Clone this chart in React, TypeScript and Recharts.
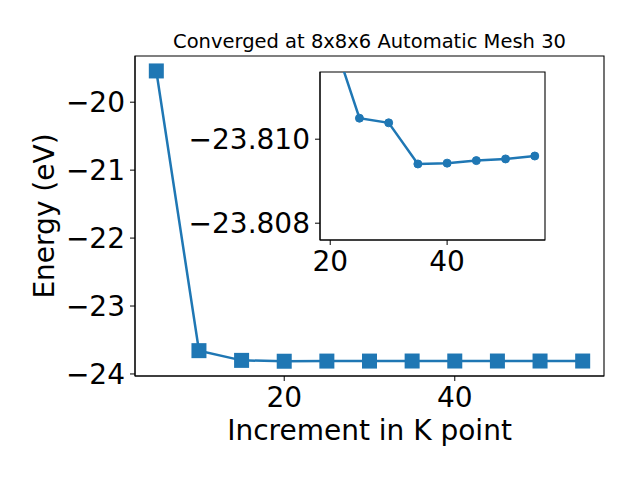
import { LineChart, Line, XAxis, YAxis, Label, ReferenceArea } from 'recharts';

const kPoints = [5, 10, 15, 20, 25, 30, 35, 40, 45, 50, 55];
const energies = [
  -19.54, -23.657, -23.8, -23.8126, -23.8105, -23.81039, -23.80941, -23.80943, -23.80949, -23.80953, -23.8096,
];
const mainXTicks = [20, 40];
const mainYTicks = [-24, -23, -22, -21, -20];
const insetXTicks = [20, 40];
const insetYTicks = [-23.81, -23.808];

const title = 'Converged at 8x8x6 Automatic Mesh 30';
const xLabel = 'Increment in K point';
const yLabel = 'Energy (eV)';

const BLUE = '#1f77b4';
const FONT = '"DejaVu Sans", sans-serif';

const mainX: [number, number] = [2.5, 57.5];
const mainY: [number, number] = [-24.03, -19.32];
const insetX: [number, number] = [18.25, 56.75];
const insetY: [number, number] = [-23.8116, -23.8076];

const mainData = kPoints.map((k, i) => ({ k, e: energies[i] }));
const insetData = mainData.filter(d => d.k >= 20);

const minus = (s: string) => s.replace('-', '\u2212');

const SquareDot = (props: any) => {
  const { cx, cy, index } = props;
  if (cx == null || cy == null) return null;
  return <rect key={`sq-${index}`} x={cx - 7.5} y={cy - 7.5} width={15} height={15} fill={BLUE} />;
};

const tickStyle = { fill: '#000', fontSize: 28, fontFamily: FONT };

export default function App() {
  return (
    <div style={{ position: 'absolute', left: 0, top: 0, width: 640, height: 480, background: '#fff' }}>
      <LineChart width={640} height={480} data={mainData} margin={{ top: 56, right: 36, bottom: 34, left: 35 }}>
        <ReferenceArea
          x1={mainX[0]}
          x2={mainX[1]}
          y1={mainY[0]}
          y2={mainY[1]}
          fill="none"
          fillOpacity={0}
          stroke="#000"
          strokeWidth={1.1}
          label={{
            content: ({ viewBox }: any) => (
              <text
                x={viewBox.x + viewBox.width / 2}
                y={viewBox.y - 8}
                textAnchor="middle"
                fontSize={19.5}
                fontFamily={FONT}
                fill="#000"
              >
                {title}
              </text>
            ),
          }}
        />
        <XAxis
          dataKey="k"
          type="number"
          domain={mainX}
          ticks={mainXTicks}
          height={70}
          tickSize={5}
          tickMargin={6}
          tick={tickStyle}
          stroke="#000"
          allowDataOverflow
        >
          <Label
            content={({ viewBox }: any) => (
              <text
                x={viewBox.x + viewBox.width / 2}
                y={viewBox.y + 64}
                textAnchor="middle"
                fontSize={28}
                fontFamily={FONT}
                fill="#000"
              >
                {xLabel}
              </text>
            )}
          />
        </XAxis>
        <YAxis
          type="number"
          domain={mainY}
          ticks={mainYTicks}
          width={100}
          tickSize={5}
          tickMargin={5}
          tick={tickStyle}
          tickFormatter={(v: number) => minus(String(v))}
          stroke="#000"
          allowDataOverflow
        >
          <Label
            content={({ viewBox }: any) => {
              const x = viewBox.x + 19;
              const y = viewBox.y + viewBox.height / 2;
              return (
                <text
                  x={x}
                  y={y}
                  transform={`rotate(-90 ${x} ${y})`}
                  textAnchor="middle"
                  fontSize={28}
                  fontFamily={FONT}
                  fill="#000"
                >
                  {yLabel}
                </text>
              );
            }}
          />
        </YAxis>
        <Line
          dataKey="e"
          stroke={BLUE}
          strokeWidth={2.5}
          dot={SquareDot}
          activeDot={false}
          isAnimationActive={false}
        />
      </LineChart>

      <div style={{ position: 'absolute', left: 170, top: 62 }}>
        <LineChart width={400} height={220} data={insetData} margin={{ top: 10, right: 25, bottom: 2, left: 10 }}>
          <ReferenceArea
            x1={insetX[0]}
            x2={insetX[1]}
            y1={insetY[0]}
            y2={insetY[1]}
            fill="#fff"
            fillOpacity={1}
            stroke="#000"
            strokeWidth={1.1}
          />
          <XAxis
            dataKey="k"
            type="number"
            domain={insetX}
            ticks={insetXTicks}
            height={40}
            tickSize={5}
            tickMargin={6}
            tick={tickStyle}
            stroke="#000"
            allowDataOverflow
          />
          <YAxis
            type="number"
            reversed
            domain={insetY}
            ticks={insetYTicks}
            width={140}
            tickSize={5}
            tickMargin={5}
            tick={tickStyle}
            tickFormatter={(v: number) => minus(v.toFixed(3))}
            stroke="#000"
            allowDataOverflow
          />
          <Line
            dataKey="e"
            stroke={BLUE}
            strokeWidth={2.5}
            dot={{ r: 4, fill: BLUE, stroke: BLUE, strokeWidth: 1 }}
            activeDot={false}
            isAnimationActive={false}
          />
        </LineChart>
      </div>
    </div>
  );
}
